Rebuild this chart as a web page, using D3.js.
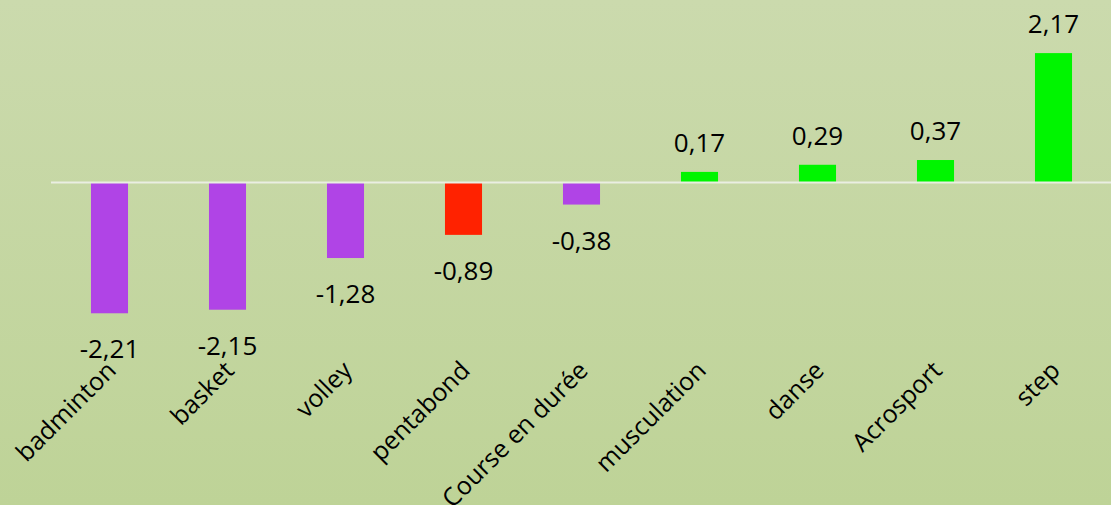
<!DOCTYPE html>
<html>
<head>
<meta charset="utf-8">
<script src="https://cdn.jsdelivr.net/npm/d3@7"></script>
<style>
  html, body { margin: 0; padding: 0; background: #c6d6a4; }
  svg { display: block; }
</style>
</head>
<body>
<svg id="chart" width="1111" height="505"></svg>
<script>
const categories = ["badminton", "basket", "volley", "pentabond", "Course en durée", "musculation", "danse", "Acrosport", "step"];
const values = [-2.21, -2.15, -1.28, -0.89, -0.38, 0.17, 0.29, 0.37, 2.17];
const valueLabels = ["-2,21", "-2,15", "-1,28", "-0,89", "-0,38", "0,17", "0,29", "0,37", "2,17"];
const barColors = ["#b044e6", "#b044e6", "#b044e6", "#ff2200", "#b044e6", "#00f500", "#00f500", "#00f500", "#00f500"];

const W = 1111, H = 505;
const svg = d3.select("#chart");

const defs = svg.append("defs");
const grad = defs.append("linearGradient").attr("id", "bg").attr("x1", 0).attr("y1", 0).attr("x2", 0).attr("y2", 1);
grad.append("stop").attr("offset", "0%").attr("stop-color", "#cbdaad");
grad.append("stop").attr("offset", "100%").attr("stop-color", "#bed397");
svg.append("rect").attr("width", W).attr("height", H).attr("fill", "url(#bg)");

const x = d3.scaleBand().domain(categories).range([50.5, 1112.5]).paddingInner(0.686).paddingOuter(0.343);
const y = d3.scaleLinear().domain([-2.21, 2.17]).range([182 + 2.21 * 59.4, 182 - 2.17 * 59.4]);

const data = categories.map((c, i) => ({ c, v: values[i], label: valueLabels[i], color: barColors[i] }));

svg.append("g").selectAll("rect").data(data).join("rect")
  .attr("x", d => x(d.c))
  .attr("width", x.bandwidth())
  .attr("y", d => Math.min(y(0), y(d.v)))
  .attr("height", d => Math.abs(y(d.v) - y(0)))
  .attr("fill", d => d.color);

svg.append("line")
  .attr("x1", 51).attr("x2", W)
  .attr("y1", y(0) + 0.5).attr("y2", y(0) + 0.5)
  .attr("stroke", "#eaeee2").attr("stroke-width", 2);

const font = "'Open Sans', 'Noto Sans', sans-serif";

svg.append("g").selectAll("text").data(data).join("text")
  .attr("x", d => x(d.c) + x.bandwidth() / 2)
  .attr("y", d => d.v >= 0 ? y(d.v) - 20 : y(d.v) + 45)
  .attr("text-anchor", "middle")
  .attr("font-family", font)
  .attr("font-size", 26)
  .attr("fill", "#000")
  .text(d => d.label);

svg.append("g").selectAll("text").data(data).join("text")
  .attr("transform", d => `translate(${x(d.c) + x.bandwidth() / 2 + 8},372) rotate(-45)`)
  .attr("text-anchor", "end")
  .attr("font-family", font)
  .attr("font-size", 25)
  .attr("fill", "#000")
  .text(d => d.c);
</script>
</body>
</html>
